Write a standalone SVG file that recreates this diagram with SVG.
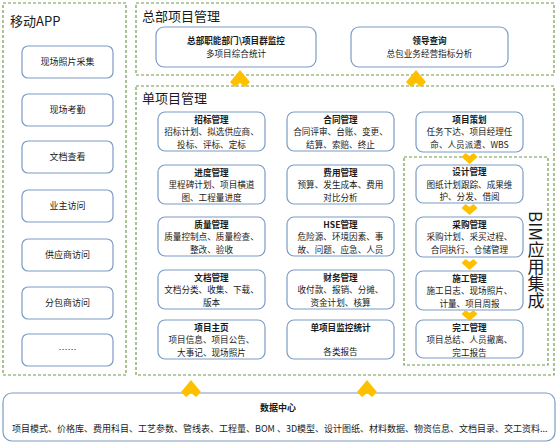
<svg xmlns="http://www.w3.org/2000/svg" width="558" height="444" viewBox="0 0 558 444">
<style>
text{font-family:"Noto Sans CJK SC","Liberation Sans",sans-serif;fill:#1a1a1a}
.grp{fill:none;stroke:#6f9c4a;stroke-width:1.2;stroke-dasharray:3 2}
.box{fill:#fff;stroke:#7b9cc5;stroke-width:1.2}
.ttl{font-size:13px}
.m{font-size:9px;text-anchor:middle}
.t{font-size:8.6px;text-anchor:middle}
.b{font-size:8.6px;text-anchor:middle;font-weight:bold}
.arr{fill:#ffc000}
</style>
<defs>
<path id="up" d="M0,-9 L10,3 L5,8 L0,4 L-5,8 L-10,3 Z"/>
<path id="dn" d="M0,6 L-8,-1 L-4,-5 L0,-2 L4,-5 L8,-1 Z"/>
</defs>

<rect width="558" height="444" fill="#fff"/>

<!-- groups -->
<g id="mobile-app">
<rect class="grp" x="3" y="3" width="123" height="372"/>
<text class="ttl" x="10" y="26">移动APP</text>
</g>
<g id="hq-group">
<rect class="grp" x="136" y="3" width="418" height="72"/>
<text class="ttl" x="142" y="21">总部项目管理</text>
</g>
<g id="single-group">
<rect class="grp" x="136" y="86" width="418" height="289"/>
<text class="ttl" x="142" y="103">单项目管理</text>
</g>
<g id="bim-group">
<rect class="grp" x="404" y="157" width="144" height="208"/>
<text x="536" y="260" style="writing-mode:vertical-rl;font-size:17px;text-anchor:middle">BIM应用集成</text>
</g>

<!-- mobile items -->
<g id="m1"><rect class="box" x="22" y="46" width="91" height="32" rx="6"/><text class="m" x="67.5" y="65">现场照片采集</text></g>
<g id="m2"><rect class="box" x="22" y="94" width="91" height="32" rx="6"/><text class="m" x="67.5" y="113">现场考勤</text></g>
<g id="m3"><rect class="box" x="22" y="141" width="91" height="32" rx="6"/><text class="m" x="67.5" y="160">文档查看</text></g>
<g id="m4"><rect class="box" x="22" y="190" width="91" height="32" rx="6"/><text class="m" x="67.5" y="209">业主访问</text></g>
<g id="m5"><rect class="box" x="22" y="239" width="91" height="32" rx="6"/><text class="m" x="67.5" y="258">供应商访问</text></g>
<g id="m6"><rect class="box" x="22" y="287" width="91" height="32" rx="6"/><text class="m" x="67.5" y="306">分包商访问</text></g>
<g id="m7"><rect class="box" x="22" y="334" width="91" height="32" rx="6"/><text class="m" x="67.5" y="353">……</text></g>

<!-- HQ items -->
<g id="hq1"><rect class="box" x="156" y="27" width="160" height="40" rx="8"/><text class="b" x="236" y="44">总部职能部门\项目群监控</text><text class="t" x="236" y="57">多项目综合统计</text></g>
<g id="hq2"><rect class="box" x="351" y="27" width="157" height="40" rx="8"/><text class="b" x="429.5" y="44">领导查询</text><text class="t" x="429.5" y="57">总包业务经营指标分析</text></g>

<!-- single project items, column 1 -->
<g id="s1"><rect class="box" x="158" y="112" width="107" height="39" rx="7"/><text class="b" x="211.5" y="122.5">招标管理</text><text class="t" x="211.5" y="135">招标计划、拟选供应商、</text><text class="t" x="211.5" y="147.5">投标、评标、定标</text></g>
<g id="s2"><rect class="box" x="158" y="165" width="107" height="39" rx="7"/><text class="b" x="211.5" y="175.5">进度管理</text><text class="t" x="211.5" y="188">里程碑计划、项目横道</text><text class="t" x="211.5" y="200.5">图、工程量进度</text></g>
<g id="s3"><rect class="box" x="158" y="217" width="107" height="39" rx="7"/><text class="b" x="211.5" y="227.5">质量管理</text><text class="t" x="211.5" y="240">质量控制点、质量检查、</text><text class="t" x="211.5" y="252.5">整改、验收</text></g>
<g id="s4"><rect class="box" x="158" y="270" width="107" height="39" rx="7"/><text class="b" x="211.5" y="280.5">文档管理</text><text class="t" x="211.5" y="293">文档分类、收集、下载、</text><text class="t" x="211.5" y="305.5">版本</text></g>
<g id="s5"><rect class="box" x="158" y="320" width="107" height="39" rx="7"/><text class="b" x="211.5" y="330.5">项目主页</text><text class="t" x="211.5" y="343">项目信息、项目公告、</text><text class="t" x="211.5" y="355.5">大事记、现场照片</text></g>

<!-- column 2 -->
<g id="s6"><rect class="box" x="287" y="112" width="107" height="39" rx="7"/><text class="b" x="340.5" y="122.5">合同管理</text><text class="t" x="340.5" y="135">合同评审、台账、变更、</text><text class="t" x="340.5" y="147.5">结算、索赔、终止</text></g>
<g id="s7"><rect class="box" x="287" y="165" width="107" height="39" rx="7"/><text class="b" x="340.5" y="175.5">费用管理</text><text class="t" x="340.5" y="188">预算、发生成本、费用</text><text class="t" x="340.5" y="200.5">对比分析</text></g>
<g id="s8"><rect class="box" x="287" y="217" width="107" height="39" rx="7"/><text class="b" x="340.5" y="227.5">HSE管理</text><text class="t" x="340.5" y="240">危险源、环境因素、事</text><text class="t" x="340.5" y="252.5">故、问题、应急、人员</text></g>
<g id="s9"><rect class="box" x="287" y="270" width="107" height="39" rx="7"/><text class="b" x="340.5" y="280.5">财务管理</text><text class="t" x="340.5" y="293">收付款、报销、分摊、</text><text class="t" x="340.5" y="305.5">资金计划、核算</text></g>
<g id="s10"><rect class="box" x="287" y="320" width="107" height="39" rx="7"/><text class="b" x="340.5" y="331">单项目监控统计</text><text class="t" x="340.5" y="355">各类报告</text></g>

<!-- column 3 -->
<g id="p1"><rect class="box" x="416" y="112" width="107" height="40" rx="7"/><text class="b" x="469.5" y="122.5">项目策划</text><text class="t" x="469.5" y="135">任务下达、项目经理任</text><text class="t" x="469.5" y="147.5">命、人员派遣、WBS</text></g>
<g id="p2"><rect class="box" x="416" y="165" width="107" height="38" rx="7"/><text class="b" x="469.5" y="175">设计管理</text><text class="t" x="469.5" y="187.5">图纸计划跟踪、成果维</text><text class="t" x="469.5" y="200">护、分发、借阅</text></g>
<g id="p3"><rect class="box" x="416" y="217" width="107" height="40" rx="7"/><text class="b" x="469.5" y="227.5">采购管理</text><text class="t" x="469.5" y="240">采购计划、采买过程、</text><text class="t" x="469.5" y="252.5">合同执行、仓储管理</text></g>
<g id="p4"><rect class="box" x="416" y="271" width="107" height="39" rx="7"/><text class="b" x="469.5" y="281.5">施工管理</text><text class="t" x="469.5" y="294">施工日志、现场照片、</text><text class="t" x="469.5" y="306.5">计量、项目周报</text></g>
<g id="p5"><rect class="box" x="416" y="320" width="107" height="38" rx="7"/><text class="b" x="469.5" y="330.5">完工管理</text><text class="t" x="469.5" y="343">项目总结、人员撤离、</text><text class="t" x="469.5" y="355.5">完工报告</text></g>

<!-- data center -->
<g id="data-center">
<rect class="box" x="3" y="393" width="552" height="48" rx="9"/>
<text class="b" x="278" y="411" style="font-size:9px">数据中心</text>
<text x="12" y="432" style="font-size:9px">项目模式、价格库、费用科目、工艺参数、管线表、工程量、BOM 、3D模型、设计图纸、材料数据、物资信息、文档目录、交工资料...</text>
</g>

<!-- connectors -->
<g id="connectors" class="arr">
<use href="#up" x="240" y="79"/>
<use href="#up" x="416" y="79"/>
<use href="#up" x="191" y="389"/>
<use href="#up" x="367" y="389"/>
<use href="#dn" x="469.5" y="158"/>
<use href="#dn" x="469.5" y="209"/>
<use href="#dn" x="469.5" y="264"/>
<use href="#dn" x="469.5" y="315"/>
</g>
</svg>
